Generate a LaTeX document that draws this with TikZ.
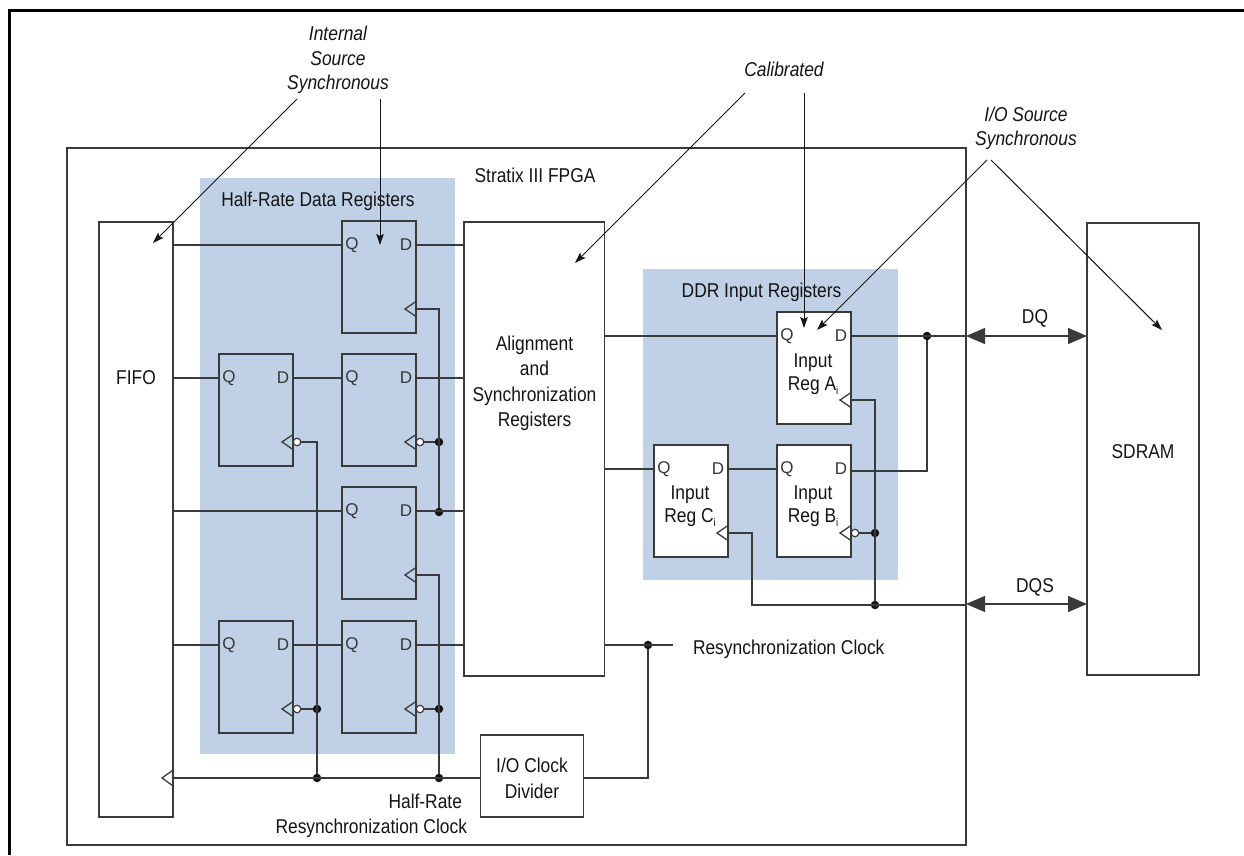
\documentclass[tikz,border=0pt]{standalone}
\usepackage{fontspec}
\usetikzlibrary{arrows.meta,calc}
\setmainfont[FakeStretch=0.87]{Liberation Sans}
\newfontfamily\pinfont{Liberation Sans}
\definecolor{bandblue}{HTML}{C0D1E7}
\definecolor{wire}{HTML}{3A3A3A}
\definecolor{ink}{HTML}{141414}
\tikzset{
  every picture/.style={x=1pt,y=-1pt},
  wireline/.style={draw=wire,line width=1.3pt},
  boxed/.style={wireline,inner sep=0pt,outer sep=0pt,rectangle},
  regbox/.style={boxed,minimum width=74pt,minimum height=112pt},
  band/.style={fill=bandblue,draw=none},
  lbl/.style={text=ink,inner sep=0pt,outer sep=0pt,align=center,font=\fontsize{20}{25.5}\selectfont},
  reglbl/.style={text=ink,inner sep=0pt,outer sep=0pt,align=center,font=\fontsize{20}{23.5}\selectfont},
  ital/.style={lbl,font=\fontsize{20}{24.5}\selectfont\itshape},
  pin/.style={text=ink!85,inner sep=0pt,font=\pinfont\fontsize{17}{17}\selectfont},
  jdot/.style={circle,fill=ink,draw=none,minimum size=8.5pt,inner sep=0pt,outer sep=0pt},
  bub/.style={circle,fill=white,draw=wire,line width=1.2pt,minimum size=7.5pt,inner sep=0pt,outer sep=0pt},
  leader/.style={draw=ink,line width=1pt,-{Stealth[length=11pt,width=7.5pt,inset=2pt]}},
  bus/.style={draw=wire,line width=1.3pt,{Triangle[length=19pt,width=16pt]}-{Triangle[length=19pt,width=16pt]}},
}
% name, left, top, fill
\newcommand\flop[4]{%
  \node[regbox,fill=#4] (#1) at (#2+37,#3+56) {};
  \coordinate (#1-q) at ([yshift=-24pt]#1.north west);
  \coordinate (#1-d) at ([yshift=-24pt]#1.north east);
  \coordinate (#1-c) at ([yshift=-88pt]#1.north east);
  \node[pin] (#1-Ql) at ([xshift=10pt,yshift=-24pt]#1.north west) {Q};
  \node[pin] (#1-Dl) at ([xshift=-10pt,yshift=-24pt]#1.north east) {D};
  \draw[wireline] ([yshift=-80.5pt]#1.north east) -- ++(-11,7.5) -- ++(11,7.5);
}
\newcommand\subi{\raisebox{-4pt}{\fontsize{11}{11}\selectfont i}}
\begin{document}
\begin{tikzpicture}
\useasboundingbox (0,0) rectangle (1244,855);
\fill[white] (0,0) rectangle (1244,855);
% page frame
\draw[black,line width=3pt] (9,855) -- (9,10) -- (1244,10);
% FPGA
\node[boxed,minimum width=899pt,minimum height=697pt] (fpga) at (516.5,496.5) {};
\fill[band] (200,178) rectangle (455,754);
\fill[band] (643,269) rectangle (898,580);
\node[lbl] (fpgat) at (535,175) {Stratix III FPGA};
\node[lbl] (hrt) at (318,201) {Half-Rate Data Registers};
\node[lbl] (ddrt) at (761.5,292) {DDR Input Registers};
% big blocks
\node[boxed,fill=white,minimum width=74pt,minimum height=595pt] (fifo) at (136,519.5) {};
\node[lbl] (fifot) at (136,378) {FIFO};
\node[boxed,fill=white,minimum width=140.5pt,minimum height=454pt] (align) at (534.25,449) {};
\node[lbl] (alignt) at (534.5,383.5) {Alignment\\and\\Synchronization\\Registers};
\node[boxed,fill=white,minimum width=112pt,minimum height=452pt] (sdram) at (1143,449) {};
\node[lbl] (sdramt) at (1143,452) {SDRAM};
\node[boxed,fill=white,minimum width=103pt,minimum height=82pt] (div) at (532,776) {};
\node[lbl] (divt) at (532,778.5) {I/O Clock\\Divider};
% half-rate registers
\flop{ra}{342}{221}{none}
\flop{rbl}{219}{354}{none}
\flop{rb}{342}{354}{none}
\flop{rc}{342}{487}{none}
\flop{rdl}{219}{621}{none}
\flop{rd}{342}{621}{none}
% DDR registers
\flop{ia}{777}{312}{white}
\flop{ib}{777}{445}{white}
\flop{ic}{654}{445}{white}
\node[reglbl] (iat) at (813,374) {Input\\Reg A\subi};
\node[reglbl] (ibt) at (813,506) {Input\\Reg B\subi};
\node[reglbl] (ict) at (690,506) {Input\\Reg C\subi};
% junctions
\node[jdot] (j1) at (439,442) {};
\node[jdot] (j2) at (439,512) {};
\node[jdot] (j3) at (317,709) {};
\node[jdot] (j4) at (439,709) {};
\node[jdot] (j5) at (317,778) {};
\node[jdot] (j6) at (439,778) {};
\node[jdot] (j7) at (648,645) {};
\node[jdot] (j8) at (927,336) {};
\node[jdot] (j9) at (875,533) {};
\node[jdot] (j10) at (875,605) {};
% bubbles
\node[bub] (brbl) at ([xshift=4pt]rbl-c) {};
\node[bub] (brb) at ([xshift=4pt]rb-c) {};
\node[bub] (brdl) at ([xshift=4pt]rdl-c) {};
\node[bub] (brd) at ([xshift=4pt]rd-c) {};
\node[bub] (bib) at ([xshift=4pt]ib-c) {};
% data wires, half-rate
\draw[wireline] (fifo.east |- ra-q) -- (ra-q);
\draw[wireline] (ra-d) -- (align.west |- ra-d);
\draw[wireline] (fifo.east |- rbl-q) -- (rbl-q);
\draw[wireline] (rbl-d) -- (rb-q);
\draw[wireline] (rb-d) -- (align.west |- rb-d);
\draw[wireline] (fifo.east |- rc-q) -- (rc-q);
\draw[wireline] (rc-d) -- (align.west |- rc-d);
\draw[wireline] (fifo.east |- rdl-q) -- (rdl-q);
\draw[wireline] (rdl-d) -- (rd-q);
\draw[wireline] (rd-d) -- (align.west |- rd-d);
% clock wires, half-rate
\draw[wireline] (ra-c) -| (j2);
\draw[wireline] (brb) -- (j1);
\draw[wireline] (brbl) -| (j5);
\draw[wireline] (rc-c) -| (j6);
\draw[wireline] (brdl) -- (j3);
\draw[wireline] (brd) -- (j4);
% clock bus
\coordinate (fifoc) at (173,778);
\draw[wireline] (fifoc) -- (fifoc -| div.west);
\draw[wireline] (172.5,770.5) -- (162,778) -- (172.5,785.5);
\draw[wireline] (div.east |- fifoc) -| (j7);
\coordinate (rstub) at (673,645);
\draw[wireline] (align.east |- j7) -- (rstub);
\node[lbl,anchor=west] (rsyn) at (693,649) {Resynchronization Clock};
\node[lbl,anchor=east] (hr1) at (462,801) {Half-Rate};
\node[lbl,anchor=east] (hr2) at (467,828.5) {Resynchronization Clock};
% DDR wires
\draw[wireline] (align.east |- ia-q) -- (ia-q);
\draw[wireline] (align.east |- ic-q) -- (ic-q);
\draw[wireline] (ic-d) -- (ib-q);
\draw[wireline] (ia-d) -- (fpga.east |- ia-d);
\coordinate (ibo) at ([yshift=-2pt]ib-d);
\draw[wireline] (ibo) -| (j8);
\draw[wireline] (ia-c) -| (j10);
\draw[wireline] (bib) -- (j9);
\draw[wireline] (ic-c) -- ++(24,0) |- (fpga.east |- j10);
% bidirectional
\node[lbl] (dqt) at (1035,318.5) {DQ};
\node[lbl] (dqst) at (1035,587) {DQS};
\draw[bus] (fpga.east |- j8) -- (sdram.west |- j8);
\coordinate (dqsy) at (966,604);
\draw[bus] (dqsy) -- (dqsy -| sdram.west);
% callouts
\node[ital] (ist) at (338,60) {Internal\\Source\\Synchronous};
\node[ital] (calt) at (784,69) {Calibrated};
\node[ital] (iot) at (1026,128.5) {I/O Source\\Synchronous};
\coordinate (l1a) at (297,99); \coordinate (l1b) at (153,243);
\coordinate (l2a) at (380,99); \coordinate (l2b) at (380,245);
\coordinate (l3a) at (745,93); \coordinate (l3b) at (575,263);
\coordinate (l4a) at (804,93); \coordinate (l4b) at (804,328);
\coordinate (l5a) at (987,160); \coordinate (l5b) at (817,330);
\coordinate (l6a) at (991,160); \coordinate (l6b) at (1162,330);
\draw[leader] (l1a) -- (l1b);
\draw[leader] (l2a) -- (l2b);
\draw[leader] (l3a) -- (l3b);
\draw[leader] (l4a) -- (l4b);
\draw[leader] (l5a) -- (l5b);
\draw[leader] (l6a) -- (l6b);
\end{tikzpicture}
\end{document}
